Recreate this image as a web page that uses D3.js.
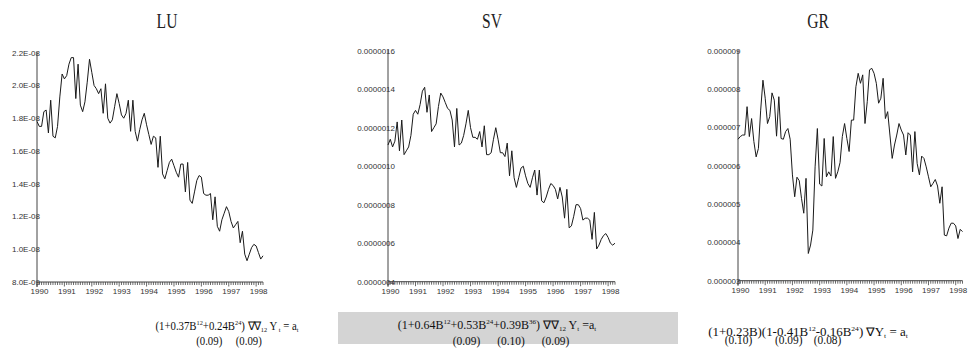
<!DOCTYPE html>
<html><head><meta charset="utf-8">
<script src="https://cdn.jsdelivr.net/npm/d3@7"></script>
<style>
html,body{margin:0;padding:0;background:#fff;}
svg{display:block;}
</style></head>
<body>
<svg id="c" width="968" height="348"></svg>
<script>
// ---------- DATA ----------
const titles = ["LU", "SV", "GR"];
const yearLabels = ["1990","1991","1992","1993","1994","1995","1996","1997","1998"];
// monthly observations 1990M1 .. 1998M4
// LU values in units of 1E-08
const luValues = [1.78,1.75,1.75,1.84,1.85,1.71,1.91,1.69,1.68,1.75,1.93,2.07,
  2.04,2.06,2.13,2.17,2.17,1.92,2.13,1.88,1.84,1.90,2.02,2.16,
  2.08,2.00,1.98,1.95,1.98,1.83,2.01,1.80,1.77,1.79,1.87,1.95,
  1.89,1.82,1.80,1.83,1.91,1.72,1.91,1.72,1.66,1.73,1.79,1.83,
  1.76,1.70,1.64,1.69,1.68,1.50,1.69,1.46,1.43,1.48,1.53,1.55,
  1.51,1.47,1.44,1.52,1.52,1.35,1.53,1.30,1.28,1.35,1.42,1.45,
  1.44,1.34,1.33,1.33,1.34,1.18,1.32,1.14,1.11,1.18,1.22,1.26,
  1.23,1.17,1.13,1.15,1.17,1.04,1.11,0.97,0.93,0.97,1.01,1.03,
  1.02,0.98,0.94,0.96];
// SV values in units of 1E-06
const svValues = [1.11,1.14,1.10,1.13,1.23,1.08,1.24,1.06,1.08,1.10,1.16,1.27,
  1.29,1.27,1.32,1.39,1.41,1.28,1.37,1.18,1.20,1.22,1.31,1.38,
  1.36,1.33,1.30,1.29,1.24,1.10,1.30,1.11,1.12,1.16,1.22,1.29,
  1.20,1.15,1.15,1.14,1.18,1.10,1.21,1.06,1.06,1.07,1.14,1.20,
  1.14,1.07,1.07,1.05,1.12,0.95,1.08,0.94,0.89,0.94,0.99,1.00,
  0.95,0.91,0.89,0.94,0.98,0.85,0.98,0.82,0.81,0.84,0.88,0.91,
  0.90,0.88,0.83,0.89,0.84,0.73,0.88,0.68,0.69,0.74,0.80,0.80,
  0.78,0.72,0.73,0.73,0.72,0.62,0.76,0.57,0.59,0.62,0.64,0.65,
  0.63,0.60,0.59,0.60];
// GR values in units of 1E-06
const grValues = [6.69,6.76,6.80,6.80,7.54,6.76,7.23,6.63,6.23,6.45,7.45,8.23,
  7.76,7.10,7.28,7.90,7.71,6.77,7.80,6.71,6.69,6.89,6.97,6.69,
  5.76,5.19,5.70,5.61,5.15,4.76,5.67,3.71,3.93,4.32,5.97,6.97,
  5.52,5.47,6.71,5.71,5.84,5.73,6.76,5.67,5.84,6.08,6.76,7.10,
  6.71,6.37,7.19,7.19,8.06,8.41,8.15,8.37,7.10,7.67,8.50,8.54,
  8.41,8.15,7.63,7.76,8.28,7.23,7.41,6.80,6.19,6.54,6.80,7.10,
  6.93,6.80,6.28,6.86,6.80,5.84,6.89,6.06,5.76,6.25,6.19,5.97,
  5.71,5.45,5.54,5.64,5.47,5.02,5.45,4.19,4.17,4.37,4.50,4.50,
  4.43,4.10,4.34,4.28];
const luTicks = [0.8,1.0,1.2,1.4,1.6,1.8,2.0,2.2];
const luTickLabels = ["8.0E-09","1.0E-08","1.2E-08","1.4E-08","1.6E-08","1.8E-08","2.0E-08","2.2E-08"];
const svTicks = [0.4,0.6,0.8,1.0,1.2,1.4,1.6];
const svTickLabels = ["0.0000004","0.0000006","0.0000008","0.0000010","0.0000012","0.0000014","0.0000016"];
const grTicks = [3,4,5,6,7,8,9];
const grTickLabels = ["0.000003","0.000004","0.000005","0.000006","0.000007","0.000008","0.000009"];

// ---------- LAYOUT ----------
const panels = [
  {title: titles[0], values: luValues, ticks: luTicks, labels: luTickLabels,
   x0: 37, x1: 263, yTop: 52.7, yBot: 282, labelEnd: 40, clipX: 0, titleX: 167},
  {title: titles[1], values: svValues, ticks: svTicks, labels: svTickLabels,
   x0: 388, x1: 615, yTop: 50.7, yBot: 281.7, labelEnd: 395, clipX: 356.5, titleX: 492},
  {title: titles[2], values: grValues, ticks: grTicks, labels: grTickLabels,
   x0: 738, x1: 962.5, yTop: 50.7, yBot: 280.7, labelEnd: 740.5, clipX: 0, titleX: 818}
];

const svg = d3.select("#c");
const defs = svg.append("defs");

panels.forEach((p, k) => {
  const n = p.values.length;
  const x = d3.scaleLinear().domain([0, n - 1]).range([p.x0, p.x1]);
  const y = d3.scaleLinear().domain([d3.min(p.ticks), d3.max(p.ticks)]).range([p.yBot, p.yTop]);
  const g = svg.append("g");

  g.append("text")
    .attr("transform", `translate(${p.titleX},28) scale(0.78,1)`)
    .attr("text-anchor", "middle")
    .attr("font-family", "Liberation Serif, Times New Roman, serif")
    .attr("font-size", 20)
    .attr("fill", "#222")
    .text(p.title);

  defs.append("clipPath").attr("id", "clip" + k)
    .append("rect").attr("x", p.clipX).attr("y", 0).attr("width", 968).attr("height", 348);
  const yl = g.append("g").attr("clip-path", `url(#clip${k})`);
  yl.selectAll("text").data(p.ticks).join("text")
    .attr("x", p.labelEnd)
    .attr("y", d => y(d))
    .attr("dy", "0.35em")
    .attr("text-anchor", "end")
    .attr("font-family", "Liberation Sans, Arial, sans-serif")
    .attr("font-size", 8)
    .attr("fill", "#333")
    .text((d, i) => p.labels[i]);

  g.append("line").attr("x1", p.x0).attr("x2", p.x0)
    .attr("y1", p.yTop - 1).attr("y2", p.yBot + 5)
    .attr("stroke", "#444").attr("stroke-width", 1);
  g.append("line").attr("x1", p.x0).attr("x2", p.x1)
    .attr("y1", p.yBot).attr("y2", p.yBot)
    .attr("stroke", "#444").attr("stroke-width", 1);

  g.append("g").selectAll("line").data(d3.range(n)).join("line")
    .attr("x1", d => x(d)).attr("x2", d => x(d))
    .attr("y1", p.yBot).attr("y2", d => p.yBot + (d % 12 === 0 ? 4.5 : 3))
    .attr("stroke", "#444").attr("stroke-width", 0.8);

  g.append("g").selectAll("text").data(yearLabels).join("text")
    .attr("x", (d, i) => x(i * 12) + 2.5)
    .attr("y", p.yBot + 12)
    .attr("text-anchor", "middle")
    .attr("font-family", "Liberation Sans, Arial, sans-serif")
    .attr("font-size", 8)
    .attr("fill", "#333")
    .text(d => d);

  const line = d3.line().x((d, i) => x(i)).y(d => y(d));
  g.append("path").datum(p.values)
    .attr("d", line)
    .attr("fill", "none")
    .attr("stroke", "#1a1a1a")
    .attr("stroke-width", 1)
    .attr("stroke-linejoin", "miter");
});

// ---------- EQUATIONS ----------
svg.append("rect").attr("x", 338).attr("y", 312).attr("width", 340).attr("height", 32)
  .attr("fill", "#d4d4d4");

function eq(xc, yb, parts, sx) {
  const t = svg.append("text")
    .attr("transform", `translate(${xc},${yb}) scale(${sx},1)`)
    .attr("text-anchor", "middle")
    .attr("font-family", "Liberation Serif, Times New Roman, serif")
    .attr("font-size", 12)
    .attr("fill", "#111")
    .attr("xml:space", "preserve");
  parts.forEach(pt => {
    const s = t.append("tspan").text(pt[0]);
    if (pt[1] === "sup") s.attr("font-size", 7).attr("dy", -5);
    if (pt[1] === "sub") s.attr("font-size", 7).attr("dy", 2);
    if (pt[1] === "base") s.attr("dy", pt[2]);
  });
}
// LU
eq(227, 330, [["(1+0.37B"],["12","sup"],["+0.24B","base",5],["24","sup"],[") \u2207\u2207","base",5],["12","sub"],[" Y","base",-2],[" t","sub"],[" = a","base",-2],["t","sub"]], 0.9);
eq(229, 345, [["(0.09)     (0.09)"]], 0.9);
// SV
eq(497, 329, [["(1+0.64B"],["12","sup"],["+0.53B","base",5],["24","sup"],["+0.39B","base",5],["36","sup"],[") \u2207\u2207","base",5],["12","sub"],[" Y","base",-2],["t","sub"],[" =a","base",-2],["t","sub"]], 1.0);
eq(511, 345, [["(0.09)      (0.10)      (0.09)"]], 0.95);
// GR
eq(808, 336, [["(1+0.23B)(1-0.41B"],["12","sup"],["-0.16B","base",5],["24","sup"],[") \u2207Y","base",5],["t","sub"],[" = a","base",-2],["t","sub"]], 1.08);
eq(783, 344, [["(0.10)        (0.09)    (0.08)"]], 0.95);
</script>
</body></html>
